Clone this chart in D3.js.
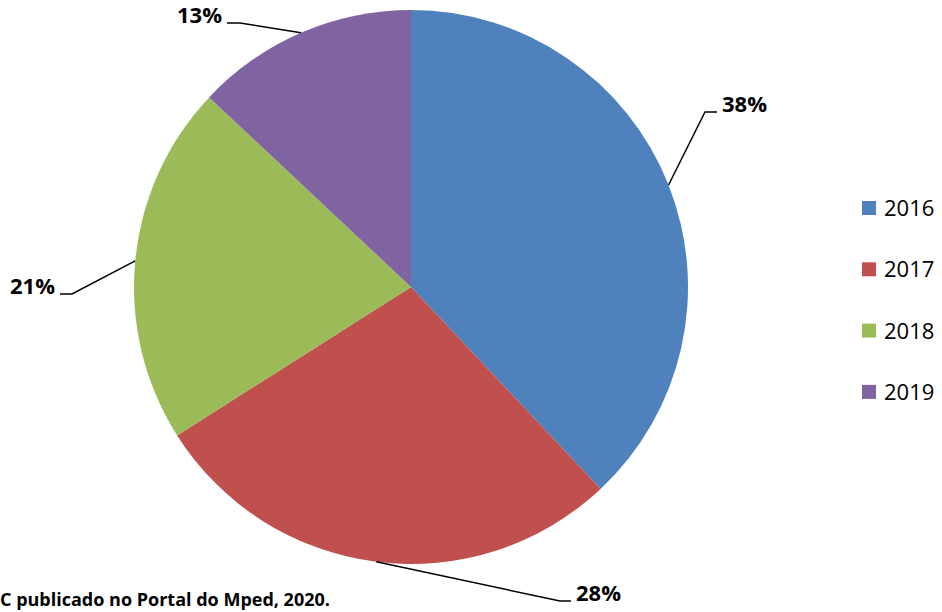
<!DOCTYPE html>
<html>
<head>
<meta charset="utf-8">
<script src="https://cdn.jsdelivr.net/npm/d3@7"></script>
<style>
  body { margin: 0; background: #fff; }
  svg { display: block; font-family: "Open Sans", sans-serif; }
</style>
</head>
<body>
<div id="chart"></div>
<script>
const years = ["2016", "2017", "2018", "2019"];
const shares = [38, 28, 21, 13];
const colors = ["#4F81BD", "#C0504D", "#9BBB59", "#8064A2"];
const footnote = "C publicado no Portal do Mped, 2020.";

const width = 942, height = 612;
const cx = 411, cy = 287, radius = 277;

// elbow point and end of leader line for each slice label
const elbows = [
  { ex: 705, ey: 112, lx: 717, side: 1 },
  { ex: 560, ey: 601, lx: 571, side: 1 },
  { ex: 72, ey: 294, lx: 60, side: -1 },
  { ex: 240, ey: 23, lx: 227, side: -1 }
];

const data = years.map((y, i) => ({ year: y, value: shares[i] }));

const svg = d3.select("#chart")
  .append("svg")
  .attr("width", width)
  .attr("height", height);

const pie = d3.pie().sort(null).value(d => d.value);
const arc = d3.arc().innerRadius(0).outerRadius(radius);
const color = d3.scaleOrdinal().domain(years).range(colors);

const arcs = pie(data);

const g = svg.append("g").attr("transform", `translate(${cx},${cy})`);

g.selectAll("path")
  .data(arcs)
  .enter()
  .append("path")
  .attr("d", arc)
  .attr("fill", d => color(d.data.year));

// leader lines + labels
arcs.forEach((d, i) => {
  const a = (d.startAngle + d.endAngle) / 2;
  const px = cx + radius * Math.sin(a);
  const py = cy - radius * Math.cos(a);
  const e = elbows[i];
  svg.append("polyline")
    .attr("points", `${px},${py} ${e.ex},${e.ey} ${e.lx},${e.ey}`)
    .attr("fill", "none")
    .attr("stroke", "#000")
    .attr("stroke-width", 1.5);
  svg.append("text")
    .attr("x", e.lx + e.side * 5)
    .attr("y", e.ey - 8)
    .attr("dy", "0.35em")
    .attr("text-anchor", e.side > 0 ? "start" : "end")
    .style("font-weight", "bold")
    .style("font-size", "22px")
    .text(d.data.value + "%");
});

// legend
const legend = svg.append("g")
  .selectAll("g")
  .data(years)
  .enter()
  .append("g")
  .attr("transform", (d, i) => `translate(862,${208 + i * 61.3})`);

legend.append("rect")
  .attr("x", 0)
  .attr("y", -7)
  .attr("width", 14)
  .attr("height", 14)
  .attr("fill", d => color(d));

legend.append("text")
  .attr("x", 22)
  .attr("y", 0)
  .attr("dy", "0.36em")
  .style("font-size", "22px")
  .text(d => d);

svg.append("text")
  .attr("x", 0)
  .attr("y", 606)
  .style("font-weight", "bold")
  .style("font-size", "18px")
  .text(footnote);
</script>
</body>
</html>
